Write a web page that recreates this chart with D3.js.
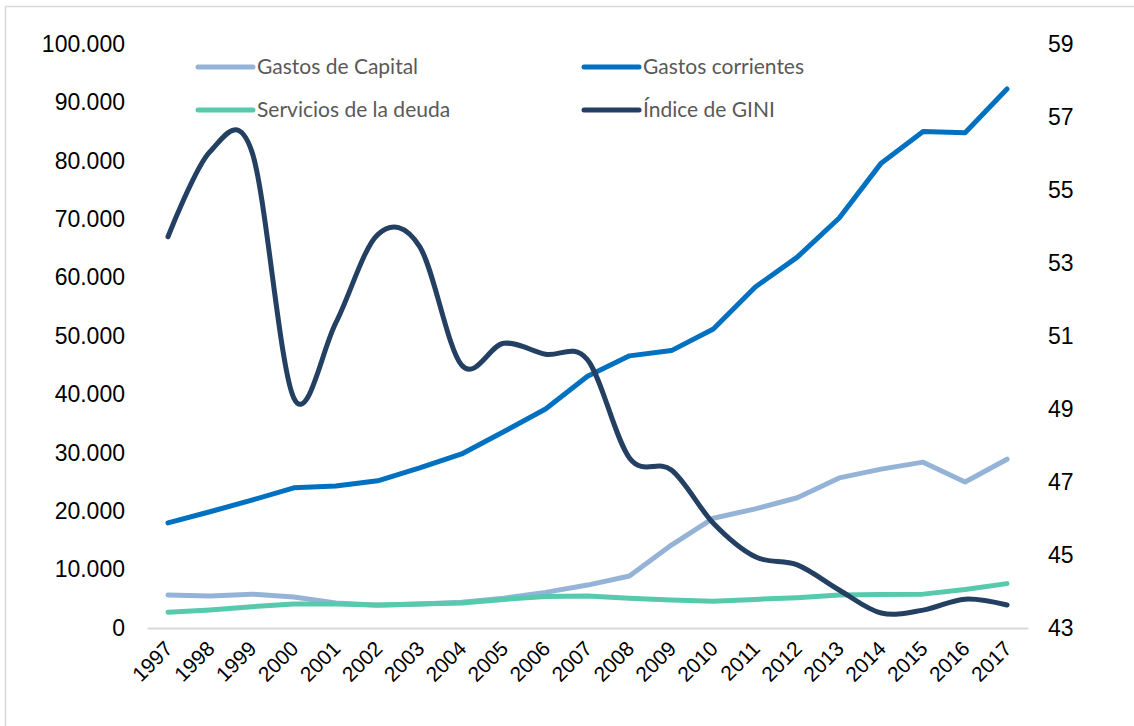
<!DOCTYPE html>
<html>
<head>
<meta charset="utf-8">
<script src="https://cdn.jsdelivr.net/npm/d3@7"></script>
<style>
  body { margin: 0; background: #fff; }
  svg { display: block; }
  .tick text { font-family: "Liberation Sans", Arial, sans-serif; fill: #000; }
  .legend text { font-family: Lato, "Open Sans", sans-serif; fill: #595959; }
</style>
</head>
<body>
<div id="chart"></div>
<script>
// data
var years = ["1997", "1998", "1999", "2000", "2001", "2002", "2003", "2004", "2005", "2006",
  "2007", "2008", "2009", "2010", "2011", "2012", "2013", "2014", "2015", "2016", "2017"];

var gastosCapital = [5650, 5500, 5800, 5300, 4300, 3900, 4100, 4400, 5100, 6100,
  7350, 8900, 14200, 18800, 20400, 22300, 25700, 27200, 28400, 25000, 28900];

var gastosCorrientes = [18000, 19900, 21900, 24000, 24300, 25200, 27400, 29800, 33600, 37500,
  43100, 46600, 47500, 51200, 58400, 63500, 70200, 79600, 85000, 84800, 92300];

var serviciosDeuda = [2700, 3100, 3650, 4100, 4100, 3950, 4100, 4300, 4900, 5400,
  5500, 5100, 4800, 4600, 4900, 5200, 5650, 5750, 5800, 6600, 7600];

var gini = [53.72, 56.05, 56.05, 49.3, 51.36, 53.78, 53.45, 50.2, 50.8, 50.5,
  50.35, 47.66, 47.33, 45.87, 44.95, 44.73, 44.04, 43.41, 43.49, 43.79, 43.63];

var leftTicks = [0, 10000, 20000, 30000, 40000, 50000, 60000, 70000, 80000, 90000, 100000];
var rightTicks = [43, 45, 47, 49, 51, 53, 55, 57, 59];

var series = [
  { name: "Gastos de Capital", values: gastosCapital, color: "#95b3d7", axis: "left" },
  { name: "Gastos corrientes", values: gastosCorrientes, color: "#0070c0", axis: "left" },
  { name: "Servicios de la deuda", values: serviciosDeuda, color: "#57c9ac", axis: "left" },
  { name: "Índice de GINI", values: gini, color: "#233f62", axis: "right" }
];

var svgWidth = 1134;
var svgHeight = 726;

var svg = d3.select("#chart")
  .append("svg")
  .attr("width", svgWidth)
  .attr("height", svgHeight);

// chart frame (only top/left edges are visible in the picture)
svg.append("path")
  .attr("d", "M5.5," + svgHeight + "V6.5H" + svgWidth)
  .attr("fill", "none")
  .attr("stroke", "#d9d9d9")
  .attr("stroke-width", 1.5);

var x = d3.scaleBand()
  .domain(years)
  .range([147, 1028]);

var yLeft = d3.scaleLinear()
  .domain([0, 100000])
  .range([628, 44]);

var yRight = d3.scaleLinear()
  .domain([43, 59])
  .range([628, 44]);

var es = d3.formatLocale({ decimal: ",", thousands: ".", grouping: [3], currency: ["$", ""] });
var fmt = es.format(",.0f");

// left axis
var leftAxis = d3.axisLeft(yLeft).tickValues(leftTicks).tickSize(0).tickPadding(0).tickFormat(fmt);
svg.append("g")
  .attr("transform", "translate(125,0)")
  .call(leftAxis)
  .call(g => g.select(".domain").remove())
  .selectAll("text")
  .style("font-size", "23px");

// right axis
var rightAxis = d3.axisRight(yRight).tickValues(rightTicks).tickSize(0).tickPadding(0);
svg.append("g")
  .attr("transform", "translate(1048,0)")
  .call(rightAxis)
  .call(g => g.select(".domain").remove())
  .selectAll("text")
  .style("font-size", "23px");

// bottom axis
var bottomAxis = d3.axisBottom(x).tickSize(0).tickSizeOuter(0);
var xg = svg.append("g")
  .attr("transform", "translate(0,628)")
  .call(bottomAxis);
xg.select(".domain").attr("stroke", "#d9d9d9").attr("stroke-width", 2);
xg.selectAll("text")
  .style("font-size", "21px")
  .attr("text-anchor", "end")
  .attr("dy", null)
  .attr("y", 0)
  .attr("transform", "translate(6,22) rotate(-45)");

// lines
var plot = svg.append("g");
series.forEach(function(s) {
  var yScale = s.axis === "left" ? yLeft : yRight;
  var line = d3.line()
    .x((d, i) => x(years[i]) + x.bandwidth() / 2)
    .y(d => yScale(d))
    .curve(s.axis === "right" ? d3.curveCardinal.tension(0) : d3.curveLinear);
  plot.append("path")
    .datum(s.values)
    .attr("d", line)
    .attr("fill", "none")
    .attr("stroke", s.color)
    .attr("stroke-width", 5)
    .attr("stroke-linecap", "round")
    .attr("stroke-linejoin", "round");
});

// legend
var legendPos = [[198, 67], [584, 67], [198, 110], [584, 110]];
var legend = svg.append("g").attr("class", "legend");
series.forEach(function(s, i) {
  var p = legendPos[i];
  legend.append("line")
    .attr("x1", p[0]).attr("x2", p[0] + 55)
    .attr("y1", p[1]).attr("y2", p[1])
    .attr("stroke", s.color)
    .attr("stroke-width", 5)
    .attr("stroke-linecap", "round");
  legend.append("text")
    .attr("x", p[0] + 59)
    .attr("y", p[1])
    .attr("dy", "0.35em")
    .style("font-size", "21px")
    .text(s.name);
});
</script>
</body>
</html>
